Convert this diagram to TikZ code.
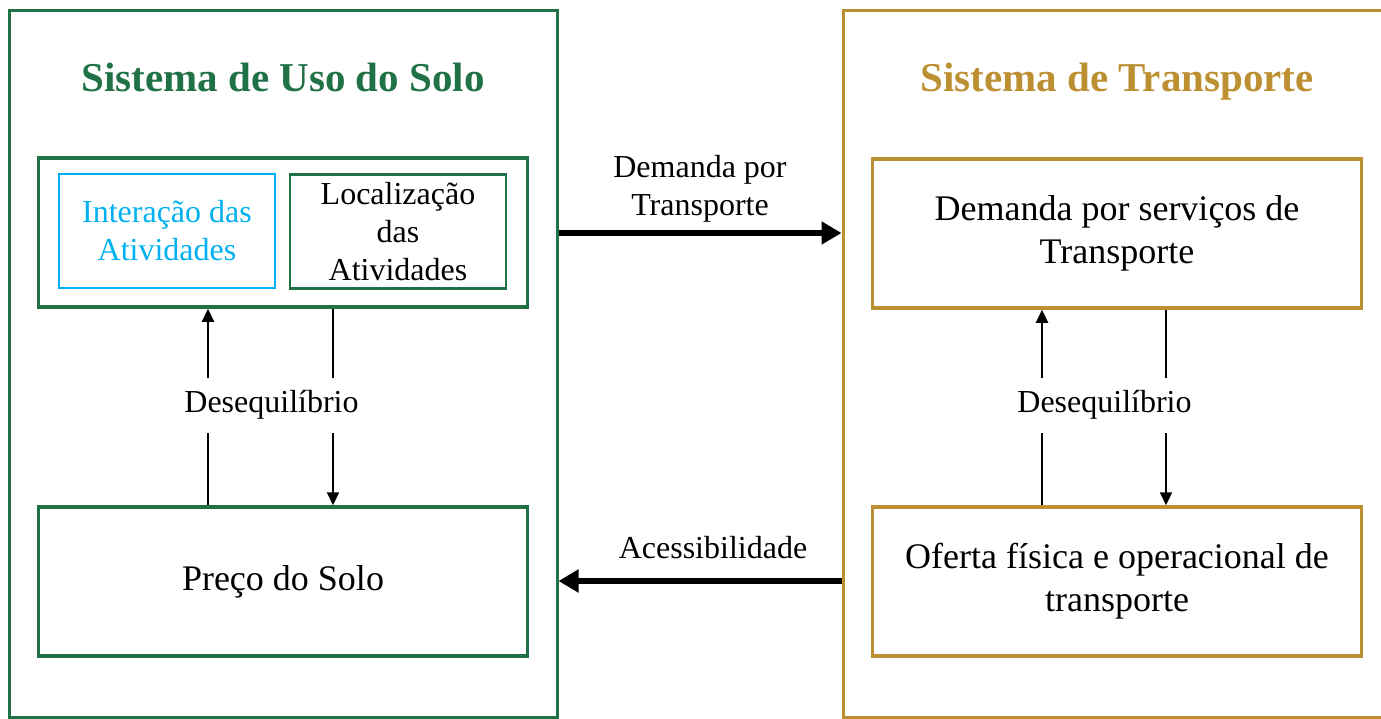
\documentclass[tikz,border=0pt]{standalone}
\usepackage{fontspec}
\setmainfont{Liberation Serif}
\usetikzlibrary{arrows.meta}
\definecolor{usogreen}{RGB}{33,113,71}
\definecolor{trgold}{RGB}{188,143,50}
\definecolor{intcyan}{RGB}{0,176,240}
\tikzset{
  sysbox/.style ={draw=#1, line width=3pt, minimum width=548, minimum height=707},
  blk/.style    ={draw=#1, line width=3.5pt, minimum width=489, minimum height=149,
                  align=center, font=\fontsize{36}{43}\selectfont},
  subbox/.style ={draw=#1, line width=2.5pt, minimum width=216, minimum height=114,
                  inner sep=0pt, align=center, font=\fontsize{32}{38}\selectfont},
  ttl/.style    ={font=\bfseries\fontsize{41}{48}\selectfont, text=#1, inner sep=0pt},
  lab/.style    ={font=\fontsize{32}{38}\selectfont, align=center, inner sep=0pt},
  arr/.style    ={draw=black, line width=2.2pt, -{Triangle[length=13pt,width=12pt]}},
  bigarr/.style ={draw=black, line width=6pt, -{Triangle[length=20pt,width=22pt]}},
}
\begin{document}
\begin{tikzpicture}[x=1pt,y=-1pt]
  \useasboundingbox (0,0) rectangle (1381,718);
  % left system
  \node[sysbox=usogreen] (uso) at (283,363.5) {};
  \node[ttl=usogreen,anchor=base] (usottl) at (283,91) {Sistema de Uso do Solo};
  \node[blk=usogreen] (atv) at (283,232.5) {};
  \node[subbox=intcyan,text=intcyan] (inter) at (167,231) {Interação das\\Atividades};
  \node[subbox=usogreen] (local) at (398,231.5) {Localização\\das\\Atividades};
  \node[blk=usogreen] (preco) at (283,581.5) {Preço do Solo};
  % right system
  \node[sysbox=trgold] (transp) at (1117,363.5) {};
  \node[ttl=trgold,anchor=base] (trttl) at (1117,91) {Sistema de Transporte};
  \node[blk=trgold] (dem) at (1117,233.5) {Demanda por serviços de\\Transporte};
  \node[blk=trgold] (ofer) at (1117,581.5) {Oferta física e operacional de\\transporte};
  % feedback arrows
  \coordinate (lu) at (208,407);
  \coordinate (ld) at (333,407);
  \coordinate (ru) at (1042,407);
  \coordinate (rd) at (1166,407);
  \draw[arr] (preco.north -| lu) -- (atv.south -| lu);
  \draw[arr] (atv.south -| ld) -- (preco.north -| ld);
  \draw[arr] (ofer.north -| ru) -- (dem.south -| ru);
  \draw[arr] (dem.south -| rd) -- (ofer.north -| rd);
  \node[lab,fill=white,minimum height=55] (deseqL) at (271.5,405) {Desequilíbrio};
  \node[lab,fill=white,minimum height=55] (deseqR) at (1104.5,405) {Desequilíbrio};
  % links between systems
  \coordinate (dt) at (700,233);
  \coordinate (ac) at (700,581);
  \draw[bigarr] (uso.east |- dt) -- (transp.west |- dt);
  \draw[bigarr] (transp.west |- ac) -- (uso.east |- ac);
  \node[lab,anchor=base] (demlab) at (700,215) {Demanda por\\Transporte};
  \node[lab,anchor=base] (aclab) at (713,558) {Acessibilidade};
\end{tikzpicture}
\end{document}
